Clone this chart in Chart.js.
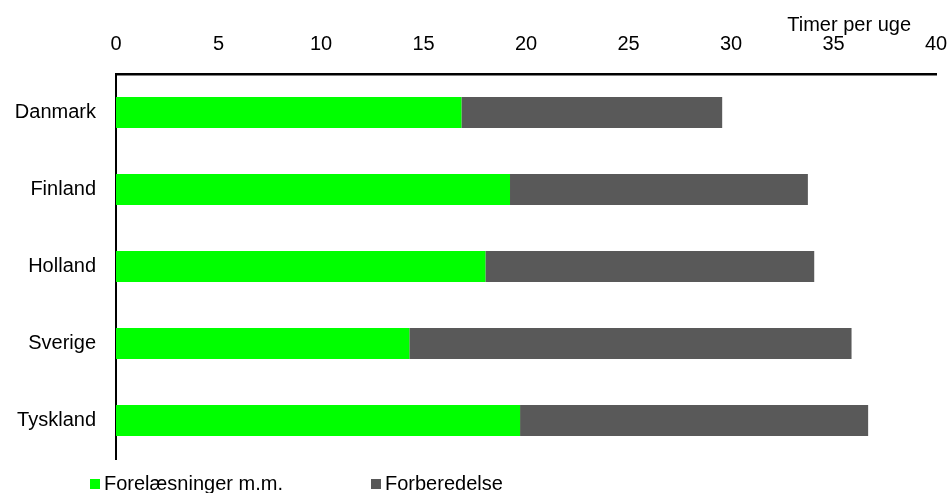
<!DOCTYPE html>
<html>
<head>
<meta charset="utf-8">
<script src="https://cdn.jsdelivr.net/npm/chart.js@4"></script>
<style>
  html, body { margin: 0; padding: 0; background: #fff; }
  #wrap { position: relative; width: 951px; height: 493px; }
  #legend { position: absolute; left: 0; top: 0; width: 951px; height: 493px; pointer-events: none;
    font-family: "Liberation Sans", Arial, sans-serif; font-size: 20px; color: #000; }
  .li { position: absolute; top: 473px; white-space: nowrap; line-height: 20px; }
  .sw { display: inline-block; width: 10px; height: 10px; margin-right: 4px; vertical-align: 1px; }
</style>
</head>
<body>
<div id="wrap">
  <canvas id="c" width="951" height="493"></canvas>
  <div id="legend"></div>
</div>
<script>
const countries = ['Danmark', 'Finland', 'Holland', 'Sverige', 'Tyskland'];
const lectures = [16.85, 19.22, 18.02, 14.31, 19.71];
const prep = [12.72, 14.53, 16.04, 21.57, 16.98];
const seriesNames = ['Forelæsninger m.m.', 'Forberedelse'];
const seriesColors = ['#00ff00', '#595959'];
const axisTitle = 'Timer per uge';

const FONT = '"Liberation Sans", Arial, sans-serif';
Chart.defaults.font.family = FONT;
Chart.defaults.font.size = 20;
Chart.defaults.color = '#000';

const titlePlugin = {
  id: 'unitTitle',
  afterDraw(chart) {
    const ctx = chart.ctx;
    ctx.save();
    ctx.font = '20px ' + FONT;
    ctx.fillStyle = '#000';
    ctx.textAlign = 'right';
    ctx.textBaseline = 'middle';
    ctx.fillText(axisTitle, 911, 25);
    ctx.restore();
  }
};

new Chart(document.getElementById('c'), {
  type: 'bar',
  data: {
    labels: countries,
    datasets: [
      { label: seriesNames[0], data: lectures, backgroundColor: seriesColors[0], borderWidth: 0 },
      { label: seriesNames[1], data: prep, backgroundColor: seriesColors[1], borderWidth: 0 },
    ],
  },
  options: {
    indexAxis: 'y',
    responsive: false,
    animation: false,
    barPercentage: 0.4,
    categoryPercentage: 1,
    layout: { padding: { left: 0, right: 0, top: 0, bottom: 34 } },
    plugins: { legend: { display: false }, tooltip: { enabled: false } },
    scales: {
      x: {
        position: 'top',
        stacked: true,
        min: 0,
        max: 40,
        ticks: { stepSize: 5, padding: 18 },
        grid: { display: false, drawTicks: false },
        border: { display: true, color: '#000', width: 2.5 },
        afterFit: s => { s.height = 74; s.paddingRight = 15; },
      },
      y: {
        stacked: true,
        ticks: { padding: 20 },
        grid: { display: false, drawTicks: false },
        border: { display: true, color: '#000', width: 2 },
        afterFit: s => { s.width = 116; },
      },
    },
  },
  plugins: [titlePlugin],
});

const leg = document.getElementById('legend');
const legX = [90, 371];
seriesNames.forEach((n, i) => {
  const d = document.createElement('div');
  d.className = 'li';
  d.style.left = legX[i] + 'px';
  d.innerHTML = '<span class="sw" style="background:' + seriesColors[i] + '"></span>' + n;
  leg.appendChild(d);
});
</script>
</body>
</html>
